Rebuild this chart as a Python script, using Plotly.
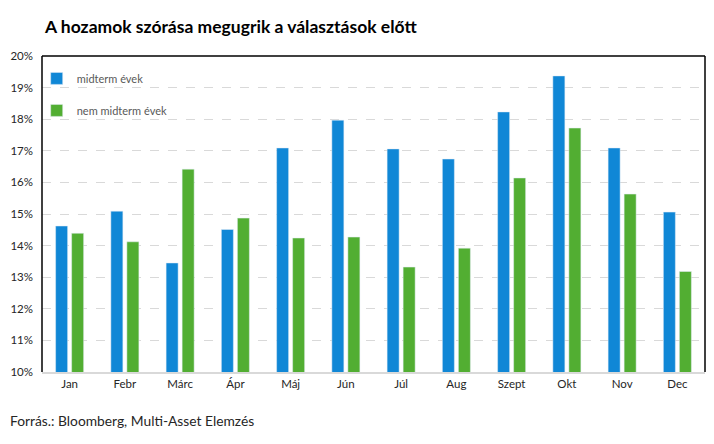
import plotly.graph_objects as go

months = ["Jan", "Febr", "Márc", "Ápr", "Máj", "Jún", "Júl", "Aug", "Szept", "Okt", "Nov", "Dec"]
midterm = [14.62, 15.09, 13.45, 14.51, 17.09, 17.97, 17.06, 16.74, 18.23, 19.37, 17.09, 15.06]
non_midterm = [14.39, 14.12, 16.42, 14.87, 14.24, 14.27, 13.32, 13.92, 16.14, 17.72, 15.63, 13.18]
y_ticks = [10, 11, 12, 13, 14, 15, 16, 17, 18, 19, 20]
y_tick_labels = [f"{v}%" for v in y_ticks]

FONT = "Lato"
BLUE = "#1087D6"
GREEN = "#52AE32"

fig = go.Figure()
fig.add_trace(go.Bar(x=months, y=midterm, name="midterm évek", marker_color=BLUE,
                     legendgroup="a"))
fig.add_trace(go.Bar(x=months, y=non_midterm, name="nem midterm évek", marker_color=GREEN,
                     legendgroup="b"))

fig.update_layout(
    width=714, height=444,
    margin=dict(l=42, r=9, t=56, b=72),
    paper_bgcolor="white", plot_bgcolor="white",
    barmode="group", bargap=0.42, bargroupgap=0.25,
    font=dict(family=FONT, size=11, color="#262626"),
    title=dict(text="<b>A hozamok szórása megugrik a választások előtt</b>",
               x=45/714, xref="container", xanchor="left",
               y=1-27/444, yref="container", yanchor="middle",
               font=dict(family=FONT, size=17.5, color="#000000")),
    legend=dict(x=-0.008, y=0.975, xanchor="left", yanchor="top",
                bgcolor="rgba(0,0,0,0)", font=dict(size=11, color="#595959"),
                traceorder="grouped", tracegroupgap=13),
    showlegend=True,
    xaxis=dict(showline=True, linecolor="#D9D9D9", linewidth=1.5, ticks="",
               tickfont=dict(size=11.5, color="#262626"), showgrid=False),
    yaxis=dict(range=[10, 20], tickvals=y_ticks, ticktext=y_tick_labels,
               showgrid=True, gridcolor="#D9D9D9", griddash="dash", gridwidth=1,
               zeroline=False, showline=False, ticks="", ticklabelstandoff=8,
               tickfont=dict(size=11.5, color="#262626")),
    shapes=[
        dict(type="line", xref="paper", yref="paper", x0=0, x1=0, y0=0, y1=1,
             line=dict(color="black", width=1.5)),
        dict(type="line", xref="paper", yref="paper", x0=0, x1=1, y0=1, y1=1,
             line=dict(color="black", width=1.5)),
        dict(type="line", xref="paper", yref="paper", x0=1, x1=1, y0=0, y1=1,
             line=dict(color="black", width=1.5)),
    ],
    annotations=[
        dict(text="Forrás.: Bloomberg, Multi-Asset Elemzés", xref="paper", yref="paper",
             x=(8-42)/663, y=-(420-372)/316, xanchor="left", yanchor="middle",
             showarrow=False, font=dict(family=FONT, size=13.8, color="#262626")),
    ],
)

fig.write_html("out.html")
